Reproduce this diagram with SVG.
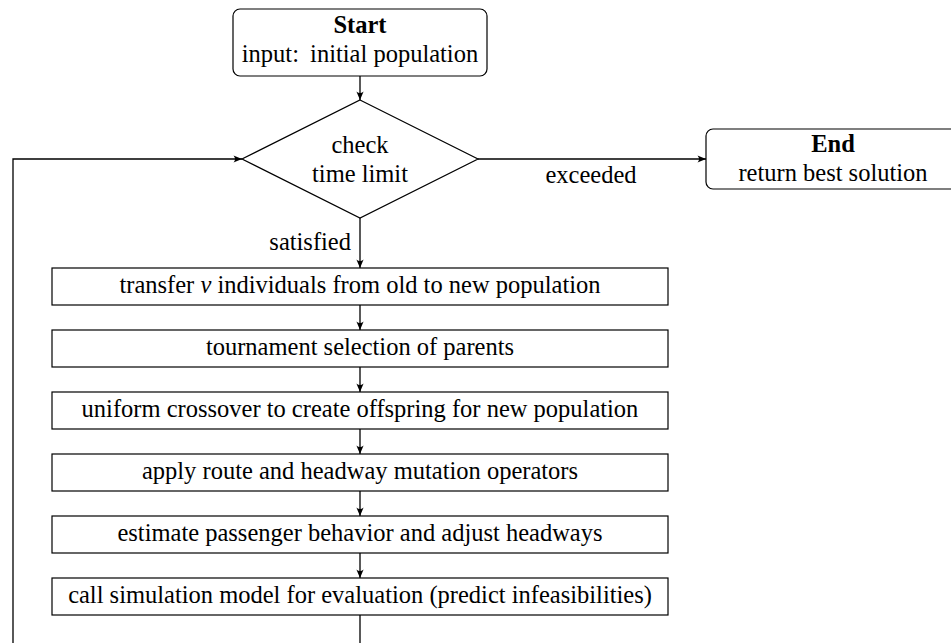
<svg xmlns="http://www.w3.org/2000/svg" width="951" height="643" viewBox="0 0 951 643">
<defs>
<style>
text{font-family:"Liberation Serif","Times New Roman",serif;font-size:24.5px;fill:#000;text-anchor:middle}
.b{font-weight:bold}
.node{fill:#fff;stroke:#000;stroke-width:1.2}
.conn{fill:none;stroke:#000;stroke-width:1.3}
</style>
<marker id="ah" markerWidth="10" markerHeight="10" refX="9" refY="5" orient="auto" markerUnits="userSpaceOnUse">
<path d="M0.5,1.4 L9,5 L0.5,8.6 Q3.5,5 0.5,1.4 Z" fill="#000"/>
</marker>
</defs>
<rect width="951" height="643" fill="#fff"/>
<g id="connectors">
<line class="conn" x1="360" y1="76" x2="360" y2="100" marker-end="url(#ah)"/>
<line class="conn" x1="478" y1="159" x2="706" y2="159" marker-end="url(#ah)"/>
<line class="conn" x1="360" y1="218" x2="360" y2="268" marker-end="url(#ah)"/>
<line class="conn" x1="360" y1="305" x2="360" y2="330" marker-end="url(#ah)"/>
<line class="conn" x1="360" y1="367" x2="360" y2="392" marker-end="url(#ah)"/>
<line class="conn" x1="360" y1="429" x2="360" y2="454" marker-end="url(#ah)"/>
<line class="conn" x1="360" y1="491" x2="360" y2="516" marker-end="url(#ah)"/>
<line class="conn" x1="360" y1="553" x2="360" y2="578" marker-end="url(#ah)"/>
<line class="conn" x1="360" y1="615" x2="360" y2="660"/>
<polyline class="conn" points="13,660 13,159 242,159" marker-end="url(#ah)"/>
<text x="591" y="183">exceeded</text>
<text x="351" y="250" style="text-anchor:end">satisfied</text>
</g>
<g id="start">
<rect class="node" x="233" y="9" width="254" height="67" rx="7"/>
<text class="b" x="360" y="33">Start</text>
<text x="360" y="62">input: <tspan dx="5">initial population</tspan></text>
</g>
<g id="check">
<polygon class="node" points="360,100 478,159 360,218 242,159"/>
<text x="360" y="153">check</text>
<text x="360" y="182">time limit</text>
</g>
<g id="end">
<rect class="node" x="706" y="129" width="254" height="60" rx="7"/>
<text class="b" x="833" y="152">End</text>
<text x="833" y="181">return best solution</text>
</g>
<g id="transfer">
<rect class="node" x="52" y="268" width="616" height="37"/>
<text x="360" y="293">transfer <tspan font-style="italic">v</tspan> individuals from old to new population</text>
</g>
<g id="tournament">
<rect class="node" x="52" y="330" width="616" height="37"/>
<text x="360" y="355">tournament selection of parents</text>
</g>
<g id="crossover">
<rect class="node" x="52" y="392" width="616" height="37"/>
<text x="360" y="417">uniform crossover to create offspring for new population</text>
</g>
<g id="mutation">
<rect class="node" x="52" y="454" width="616" height="37"/>
<text x="360" y="479">apply route and headway mutation operators</text>
</g>
<g id="estimate">
<rect class="node" x="52" y="516" width="616" height="37"/>
<text x="360" y="541">estimate passenger behavior and adjust headways</text>
</g>
<g id="simulate">
<rect class="node" x="52" y="578" width="616" height="37"/>
<text x="360" y="603">call simulation model for evaluation (predict infeasibilities)</text>
</g>
</svg>
